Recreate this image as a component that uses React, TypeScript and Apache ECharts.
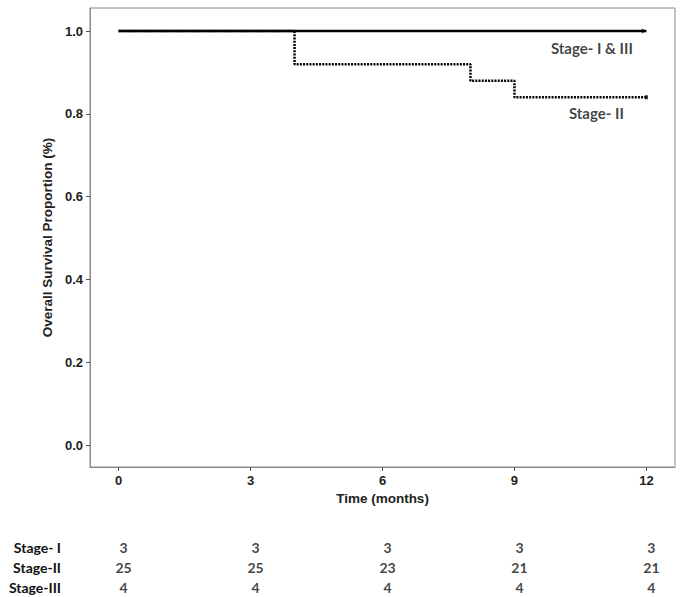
import React, { useEffect, useRef } from "react";
import * as echarts from "echarts";

const timeTicks = [0, 3, 6, 9, 12];
const survivalTicks = [0, 0.2, 0.4, 0.6, 0.8, 1.0];

const stageIandIII: [number, number][] = [
  [0, 1.0],
  [12, 1.0],
];
const stageII: [number, number][] = [
  [0, 1.0],
  [4, 0.92],
  [8, 0.88],
  [9, 0.84],
  [12, 0.84],
];

const curveLabels = ["Stage- I & III", "Stage- II"];

const riskRowNames = ["Stage- I", "Stage-II", "Stage-III"];
const riskStageI = [3, 3, 3, 3, 3];
const riskStageII = [25, 25, 23, 21, 21];
const riskStageIII = [4, 4, 4, 4, 4];
const riskRows = [riskStageI, riskStageII, riskStageIII];

const AXIS_FONT = "'Liberation Sans', Arial, sans-serif";
const LABEL_FONT = "Lato, 'Open Sans', sans-serif";

export default function App() {
  const ref = useRef<HTMLDivElement>(null);

  useEffect(() => {
    if (!ref.current) return;
    const chart = echarts.init(ref.current, undefined, { renderer: "svg" });

    const lastI = stageIandIII[stageIandIII.length - 1];
    const lastII = stageII[stageII.length - 1];

    const riskSeries = riskRows.map((row, ri) => ({
      type: "scatter",
      xAxisIndex: 1,
      yAxisIndex: 1,
      symbolSize: 1,
      itemStyle: { color: "rgba(0,0,0,0)" },
      silent: true,
      data: row.map((v, i) => [timeTicks[i], ri, v]),
      label: {
        show: true,
        position: "inside",
        offset: [5, 0],
        formatter: (p: any) => String(p.value[2]),
        fontFamily: LABEL_FONT,
        fontWeight: "bold",
        fontSize: 14,
        color: "#111",
      },
    }));

    chart.setOption({
      animation: false,
      backgroundColor: "#fff",
      grid: [
        {
          left: 90,
          right: 10,
          top: 8,
          bottom: 130,
          show: true,
          borderColor: "#8a8a8a",
          borderWidth: 1,
          backgroundColor: "transparent",
        },
        { left: 90, right: 10, top: 538, height: 60 },
      ],
      xAxis: [
        {
          type: "value",
          gridIndex: 0,
          min: -0.65,
          max: 12.65,
          name: "Time (months)",
          nameLocation: "middle",
          nameGap: 20,
          nameTextStyle: {
            fontFamily: AXIS_FONT,
            fontWeight: "bold",
            fontSize: 13.5,
            color: "#222",
          },
          splitLine: { show: false },
          axisLine: { show: true, onZero: false, lineStyle: { color: "#8a8a8a" } },
          axisTick: {
            show: true,
            length: 4,
            customValues: timeTicks,
            lineStyle: { color: "#555" },
          },
          axisLabel: {
            customValues: timeTicks,
            margin: 7,
            fontFamily: AXIS_FONT,
            fontWeight: "bold",
            fontSize: 13,
            color: "#222",
          },
        },
        {
          type: "value",
          gridIndex: 1,
          min: -0.65,
          max: 12.65,
          show: false,
        },
      ],
      yAxis: [
        {
          type: "value",
          gridIndex: 0,
          min: -0.053,
          max: 1.0556,
          name: "Overall Survival Proportion (%)",
          nameLocation: "middle",
          nameGap: 33,
          nameTextStyle: {
            fontFamily: AXIS_FONT,
            fontWeight: "bold",
            fontSize: 13.5,
            color: "#222",
          },
          splitLine: { show: false },
          axisLine: { show: true, onZero: false, lineStyle: { color: "#8a8a8a" } },
          axisTick: {
            show: true,
            length: 4,
            customValues: survivalTicks,
            lineStyle: { color: "#555" },
          },
          axisLabel: {
            customValues: survivalTicks,
            margin: 7,
            formatter: (v: number) => v.toFixed(1),
            fontFamily: AXIS_FONT,
            fontWeight: "bold",
            fontSize: 13,
            color: "#222",
          },
        },
        {
          type: "category",
          gridIndex: 1,
          inverse: true,
          data: riskRowNames,
          axisLine: { show: false },
          axisTick: { show: false },
          splitLine: { show: false },
          axisLabel: {
            margin: 29,
            fontFamily: LABEL_FONT,
            fontWeight: "bold",
            fontSize: 14,
            color: "#111",
          },
        },
      ],
      series: [
        {
          type: "line",
          name: curveLabels[0],
          data: stageIandIII,
          symbol: "none",
          silent: true,
          lineStyle: { color: "#000", width: 2.5 },
          z: 2,
        },
        {
          type: "line",
          name: curveLabels[1],
          data: stageII,
          step: "end",
          symbol: "none",
          silent: true,
          lineStyle: { color: "#000", width: 2.5, type: [2, 1.2], cap: "butt" },
          z: 3,
        },
        {
          type: "scatter",
          silent: true,
          z: 4,
          data: [
            {
              value: lastI,
              symbol: "arrow",
              symbolSize: [4, 5],
              symbolRotate: -90,
              label: { offset: [-52, 17], formatter: curveLabels[0] },
            },
            {
              value: lastII,
              symbol: "rect",
              symbolSize: [3, 4],
              label: { offset: [-50, 16], formatter: curveLabels[1] },
            },
          ],
          itemStyle: { color: "#000" },
          label: {
            show: true,
            position: "inside",
            fontFamily: LABEL_FONT,
            fontWeight: "bold",
            fontSize: 15,
            color: "#111",
          },
        },
        ...riskSeries,
      ],
    });

    return () => chart.dispose();
  }, []);

  return (
    <div
      ref={ref}
      style={{ position: "absolute", left: 0, top: 0, width: 685, height: 597 }}
    />
  );
}
